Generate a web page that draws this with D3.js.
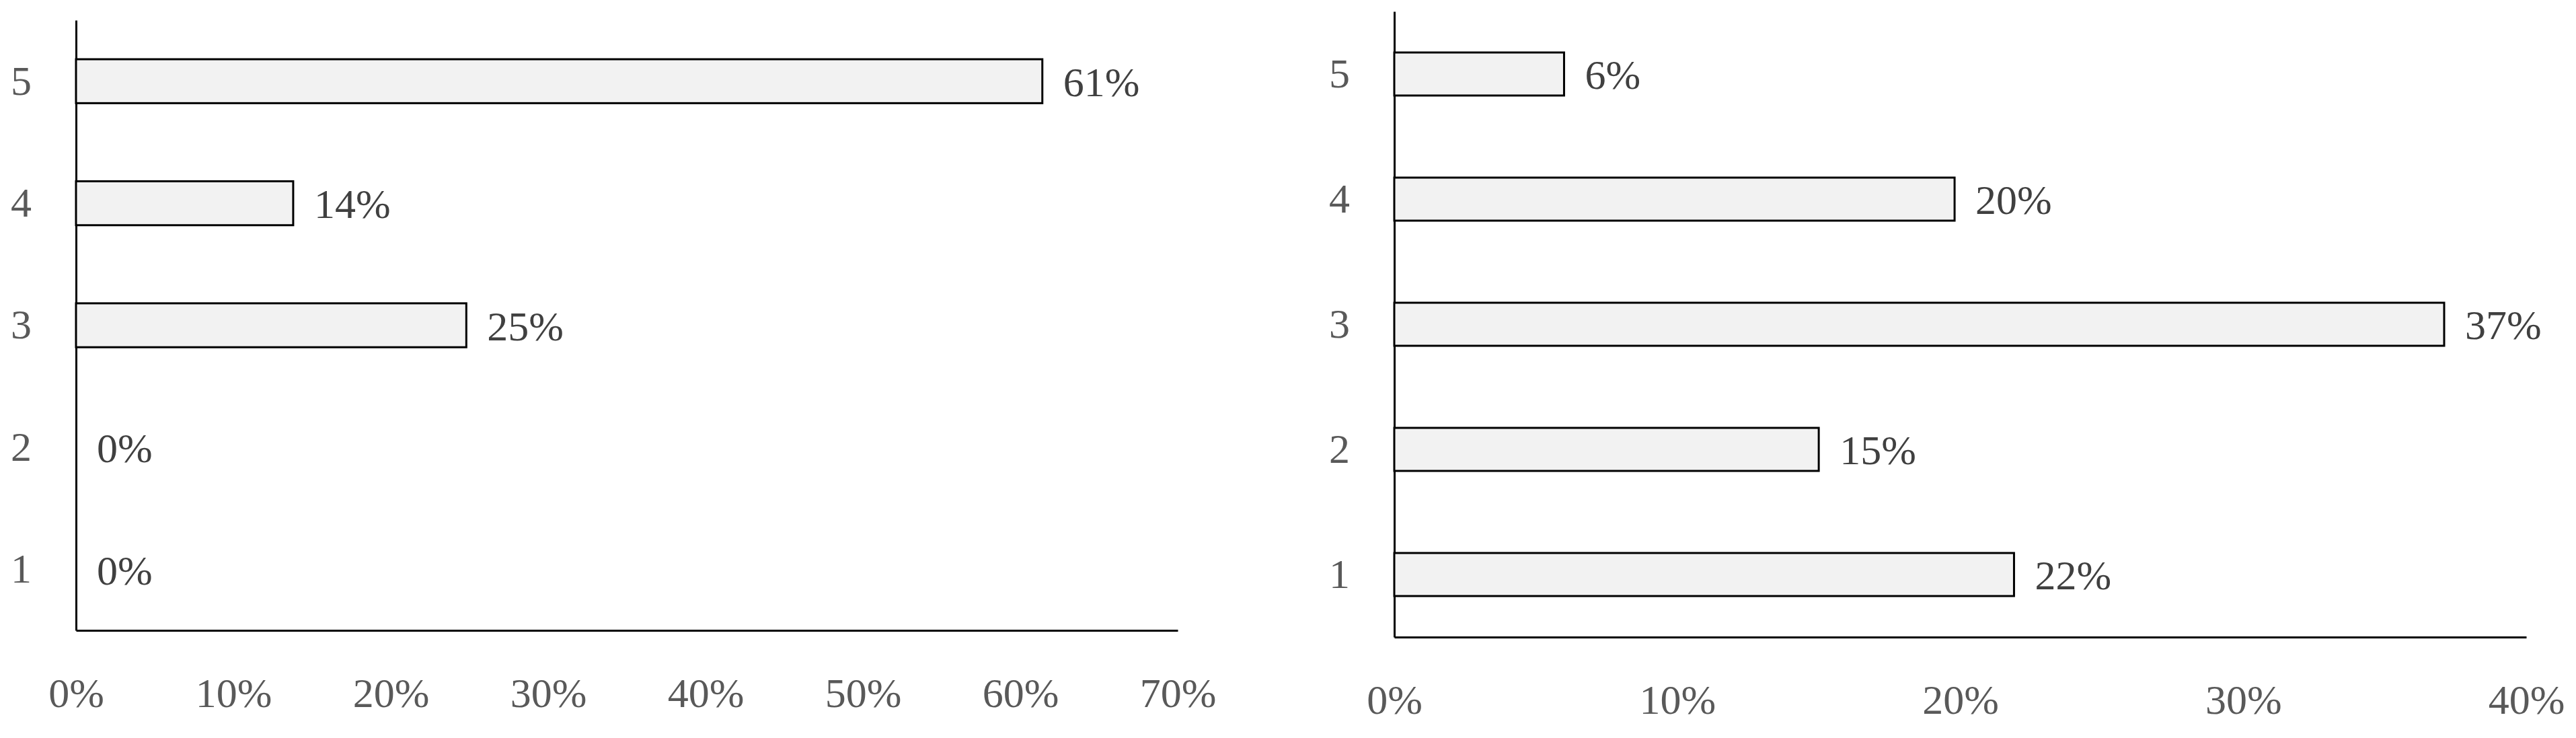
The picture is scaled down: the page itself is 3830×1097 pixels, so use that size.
<!DOCTYPE html>
<html>
<head>
<meta charset="utf-8">
<script src="https://cdn.jsdelivr.net/npm/d3@7"></script>
<style>
  html, body { margin: 0; padding: 0; background: #ffffff; }
  svg { display: block; }
</style>
</head>
<body>
<svg id="chart" width="3830" height="1097"></svg>
<script>
// ---- data ----
const categories = ["5", "4", "3", "2", "1"];
const leftValues = [61.4, 13.8, 24.8, 0, 0];
const rightValues = [6, 19.8, 37.1, 15, 21.9];
const leftTicks = [0, 10, 20, 30, 40, 50, 60, 70];
const rightTicks = [0, 10, 20, 30, 40];

const svg = d3.select("#chart");
const FONT = "'Liberation Serif', 'DejaVu Serif', serif";
const fmt = d => Math.round(d) + "%";

function drawPanel(cfg) {
  const g = svg.append("g");
  const x = d3.scaleLinear().domain([0, cfg.max]).range([cfg.x0, cfg.x1]);
  const y = d3.scaleBand().domain(categories).range([cfg.y0, cfg.y1])
    .paddingInner(cfg.padIn).paddingOuter(cfg.padOut);

  // x axis
  const xa = g.append("g").attr("transform", `translate(0,${cfg.y1})`)
    .call(d3.axisBottom(x).tickValues(cfg.ticks).tickFormat(d => d + "%")
      .tickSize(0).tickSizeOuter(0).tickPadding(70));
  xa.select(".domain").attr("stroke", "#000").attr("stroke-width", 3);
  xa.selectAll("text").attr("font-family", FONT).attr("font-size", 62).attr("fill", "#595959");

  // y axis
  const ya = g.append("g").attr("transform", `translate(${cfg.x0},0)`)
    .call(d3.axisLeft(y).tickSize(0).tickSizeOuter(0).tickPadding(66));
  ya.select(".domain").attr("stroke", "#000").attr("stroke-width", 3);
  ya.selectAll("text").attr("font-family", FONT).attr("font-size", 62).attr("fill", "#595959");

  const data = categories.map((c, i) => ({ c, v: cfg.values[i] }));

  g.selectAll("rect.bar").data(data.filter(d => d.v > 0)).join("rect")
    .attr("class", "bar")
    .attr("x", x(0))
    .attr("y", d => y(d.c))
    .attr("width", d => x(d.v) - x(0))
    .attr("height", y.bandwidth())
    .attr("fill", "#f2f2f2")
    .attr("stroke", "#000")
    .attr("stroke-width", 3);

  g.selectAll("text.lbl").data(data).join("text")
    .attr("class", "lbl")
    .attr("x", d => x(d.v) + 31)
    .attr("y", d => y(d.c) + y.bandwidth() / 2)
    .attr("dy", "0.36em")
    .attr("font-family", FONT)
    .attr("font-size", 62)
    .attr("fill", "#404040")
    .text(d => fmt(d.v));
}

drawPanel({ values: leftValues, ticks: leftTicks, max: 70,
  x0: 113, x1: 1751, y0: 30, y1: 937, padIn: 0.64, padOut: 0.32 });
drawPanel({ values: rightValues, ticks: rightTicks, max: 40,
  x0: 2073, x1: 3756, y0: 17, y1: 947, padIn: 0.656, padOut: 0.328 });
</script>
</body>
</html>
